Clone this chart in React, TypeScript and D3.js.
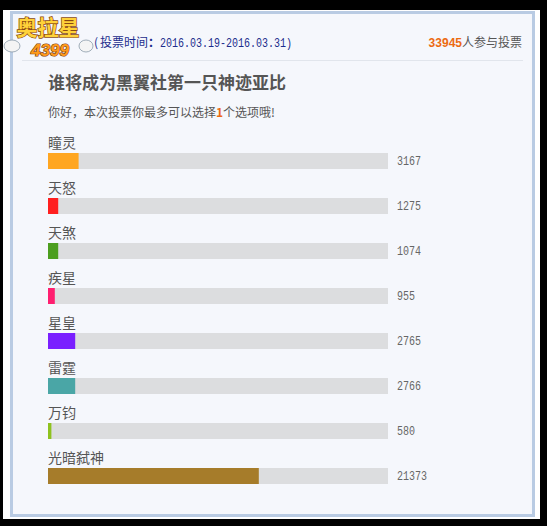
import React from "react";
import * as d3 from "d3";

const categories = ["瞳灵", "天怒", "天煞", "疾星", "星皇", "雷霆", "万钧", "光暗弑神"];
const votes = [3167, 1275, 1074, 955, 2765, 2766, 580, 21373];
const colors = ["#ffa621", "#ff1f1f", "#4c9e1f", "#ff1f70", "#7a1fff", "#4aa6a6", "#8ec21f", "#a67c2a"];
const totalVoters = 33945;
const title = "谁将成为黑翼社第一只神迹亚比";
const dateRange = "2016.03.19-2016.03.31";

const W = 547;
const H = 526;
const CJK = "'Noto Sans CJK SC', 'Noto Sans', sans-serif";
const MONO = "'Liberation Mono', 'DejaVu Sans Mono', monospace";

export default function App() {
  const total = d3.sum(votes);
  const pct = votes.map((v) => Math.floor((v / total) * 100));
  const x = d3.scaleLinear().domain([0, 100]).range([0, 340]);
  const y = d3
    .scaleBand<number>()
    .domain(d3.range(categories.length))
    .range([127, 487])
    .paddingInner(0)
    .paddingOuter(0);
  const trackX = 48;
  const barH = 16;

  return (
    <svg
      width={W}
      height={H}
      style={{ position: "absolute", left: 0, top: 0, display: "block" }}
    >
      <rect x={0} y={0} width={W} height={H} fill="#000" />
      <rect x={3} y={10} width={537} height={509} fill="#fff" />
      <rect x={11.5} y={12.5} width={522} height={503} fill="#f5f7fc" stroke="#b9cbe3" strokeWidth={3} />

      {/* logo approximation */}
      <g>
        <ellipse cx={12} cy={46} rx={8} ry={6} fill="#f4f4f4" stroke="#8a9aa8" strokeWidth={0.8} />
        <ellipse cx={86} cy={46} rx={7} ry={6} fill="#f4f4f4" stroke="#8a9aa8" strokeWidth={0.8} />
        <text
          x={48}
          y={35}
          textAnchor="middle"
          fontFamily={CJK}
          fontWeight="bold"
          fontSize={21}
          fill="#ffd23a"
          stroke="#8a4a12"
          strokeWidth={1.4}
          paintOrder="stroke"
        >
          奥拉星
        </text>
        <text
          x={50}
          y={56}
          textAnchor="middle"
          fontFamily="'Liberation Sans', sans-serif"
          fontWeight="bold"
          fontStyle="italic"
          fontSize={17}
          fill="#ff9a1a"
          stroke="#7a3a10"
          strokeWidth={1.2}
          paintOrder="stroke"
        >
          4399
        </text>
      </g>

      <text x={94} y={47} fontSize={12} fill="#1c2d8c" fontFamily={CJK}>
        <tspan>(</tspan>
        <tspan x={100}>投票时间</tspan>
        <tspan x={148} fontWeight="bold">：</tspan>
        <tspan x={160} fontFamily={MONO} fontSize={12} textLength={132} lengthAdjust="spacingAndGlyphs">
          {dateRange + ")"}
        </tspan>
      </text>

      <text x={522} y={47} textAnchor="end" fontSize={12} fontFamily={CJK} fill="#555">
        <tspan fill="#ec6a12" fontWeight="bold" fontFamily="'Liberation Sans', sans-serif">
          {totalVoters}
        </tspan>
        <tspan>人参与投票</tspan>
      </text>

      <line x1={22} x2={523} y1={60.5} y2={60.5} stroke="#e1e5ec" strokeWidth={1} />

      <text x={48} y={89} fontSize={17} fontWeight="bold" fontFamily={CJK} fill="#555">
        {title}
      </text>
      <text x={48} y={117} fontSize={12} fontFamily={CJK} fill="#555">
        <tspan>你好，本次投票你最多可以选择</tspan>
        <tspan fill="#ec6a12" fontWeight="bold">1</tspan>
        <tspan>个选项哦!</tspan>
      </text>

      {categories.map((c, i) => {
        const top = (y(i) as number) + 26;
        const label = String(votes[i]);
        return (
          <g key={c}>
            <text x={trackX} y={top - 5} fontSize={14} fontFamily={CJK} fill="#555">
              {c}
            </text>
            <rect x={trackX} y={top} width={x(100)} height={barH} fill="#dcdddf" />
            <rect x={trackX} y={top} width={x(pct[i])} height={barH} fill={colors[i]} />
            <text
              x={397}
              y={top + 12}
              fontSize={12}
              fontFamily={MONO}
              fill="#666"
              textLength={label.length * 6}
              lengthAdjust="spacingAndGlyphs"
            >
              {label}
            </text>
          </g>
        );
      })}
    </svg>
  );
}
